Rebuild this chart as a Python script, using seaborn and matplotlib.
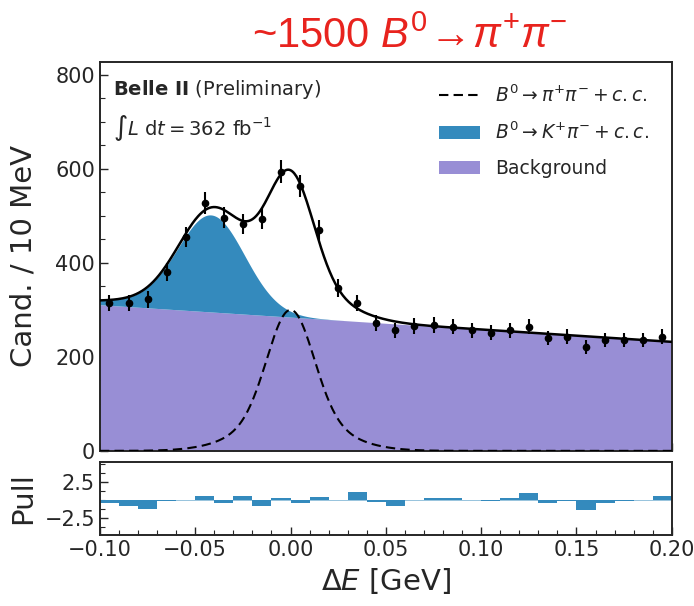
import matplotlib
matplotlib.use("Agg")
import matplotlib.pyplot as plt
import seaborn as sns
import numpy as np
from matplotlib.ticker import MultipleLocator

# binned data: Delta E bin centres (GeV) and candidates per 10 MeV
bin_centers = np.arange(-0.095, 0.2, 0.01)
counts = [315, 315, 323, 381, 455, 528, 496, 483, 494, 594,
          564, 470, 347, 315, 272, 257, 266, 268, 264, 257,
          251, 257, 264, 240, 243, 221, 236, 236, 236, 243]
pulls = [-0.5, -0.8, -1.25, -0.1, 0.05, 0.5, -0.5, 0.5, -0.8, 0.3,
         -0.5, 0.35, 0.0, 1.15, -0.25, -0.8, 0.0, 0.2, 0.2, -0.05,
         -0.15, 0.3, 0.9, -0.5, -0.1, -1.4, -0.45, -0.1, 0.0, 0.6]

# fit components
bkg_edges = [311, 232]                 # background at -0.10 and 0.20 GeV
kpi_core = (200, -0.0415, 0.0175)      # amplitude, mean, sigma
kpi_tail = (12, -0.075, 0.03)
pipi_core = (230, 0.0, 0.012)
pipi_wide = (70, 0.0, 0.024)


def gauss(x, amp, mu, sig):
    return amp * np.exp(-0.5 * ((x - mu) / sig) ** 2)


sns.set_style("ticks")
plt.rcParams["font.family"] = ["DejaVu Sans"]
plt.rcParams["mathtext.rm"] = "Liberation Sans"
plt.rcParams["mathtext.it"] = "Liberation Sans:italic"

x = np.linspace(-0.1, 0.2, 601)
bkg = np.interp(x, [-0.1, 0.2], bkg_edges)
kpi = gauss(x, *kpi_core) + gauss(x, *kpi_tail)
pipi = gauss(x, *pipi_core) + gauss(x, *pipi_wide)
total = bkg + kpi + pipi

fig = plt.figure(figsize=(6.94, 6.06), dpi=100)
ax = fig.add_axes([0.144, 0.256, 0.824, 0.642])
axp = fig.add_axes([0.144, 0.117, 0.824, 0.121], sharex=ax)

ax.fill_between(x, 0, bkg, color="#988ED5", lw=0, label="Background", zorder=1)
ax.fill_between(x, bkg, bkg + kpi, color="#348ABD", lw=0,
                label=r"$B^0\to K^{+}\pi^{-}+c.c.$", zorder=1)
sns.lineplot(x=x, y=pipi, color="black", lw=1.5, ax=ax, zorder=3,
             label=r"$B^0\to \pi^{+}\pi^{-}+c.c.$")
ax.lines[-1].set_dashes((4.5, 2.5))
sns.lineplot(x=x, y=total, color="black", lw=1.8, ax=ax, zorder=4)
ax.errorbar(bin_centers, counts, yerr=np.sqrt(counts), fmt="o", color="black",
            ms=4.5, elinewidth=1.5, capsize=0, zorder=5)

ax.set_xlim(-0.1, 0.2)
ax.set_ylim(0, 828)
ax.yaxis.set_major_locator(MultipleLocator(200))
ax.yaxis.set_minor_locator(MultipleLocator(50))
ax.xaxis.set_major_locator(MultipleLocator(0.05))
ax.xaxis.set_minor_locator(MultipleLocator(0.01))
ax.tick_params(axis="x", labelbottom=False)
ax.set_ylabel("Cand. / 10 MeV", fontsize=21)
ax.yaxis.set_label_coords(-0.11, 0.5)

handles, labels = ax.get_legend_handles_labels()
order = [labels.index(l) for l in [r"$B^0\to \pi^{+}\pi^{-}+c.c.$",
                                   r"$B^0\to K^{+}\pi^{-}+c.c.$", "Background"]]
leg = ax.legend([handles[i] for i in order], [labels[i] for i in order],
                loc="upper right", bbox_to_anchor=(0.99, 0.985), frameon=False,
                fontsize=13.5, handlelength=2.2, handletextpad=0.8, labelspacing=0.85)
for t in leg.get_texts():
    t.set_math_fontfamily("dejavusans")

ax.text(0.023, 0.928, r"$\mathbf{Belle\ II}$ (Preliminary)", transform=ax.transAxes,
        fontsize=14, va="center", math_fontfamily="dejavusans")
ax.text(0.023, 0.83, r"$\int L\ \mathrm{d}t = 362\ \mathrm{fb}^{-1}$",
        transform=ax.transAxes, fontsize=14, va="center", math_fontfamily="dejavusans")

axp.stairs(pulls, np.arange(-0.1, 0.2001, 0.01), fill=True, color="#348ABD", lw=0)
axp.axhline(0, color="#348ABD", lw=0.6, alpha=0.6)
axp.set_ylim(-4.9, 5.3)
axp.set_yticks([-2.5, 2.5])
axp.yaxis.set_minor_locator(MultipleLocator(1.25))
axp.set_ylabel("Pull", fontsize=21)
axp.yaxis.set_label_coords(-0.11, 0.5)
axp.set_xlabel(r"$\Delta E$ [GeV]", fontsize=21, math_fontfamily="dejavusans")

for a in (ax, axp):
    a.tick_params(which="both", direction="in", labelsize=15)
    a.tick_params(which="major", length=6, width=1)
    a.tick_params(which="minor", length=3.5, width=0.8)
    for s in a.spines.values():
        s.set_linewidth(1.4)

fig.text(0.59, 0.94, r"~1500 $B^0\!\rightarrow\!\pi^{+}\pi^{-}$", color="#e8231e",
         fontsize=30, ha="center", va="center", family="Liberation Sans",
         math_fontfamily="custom")

fig.savefig("out.png", dpi=100)
